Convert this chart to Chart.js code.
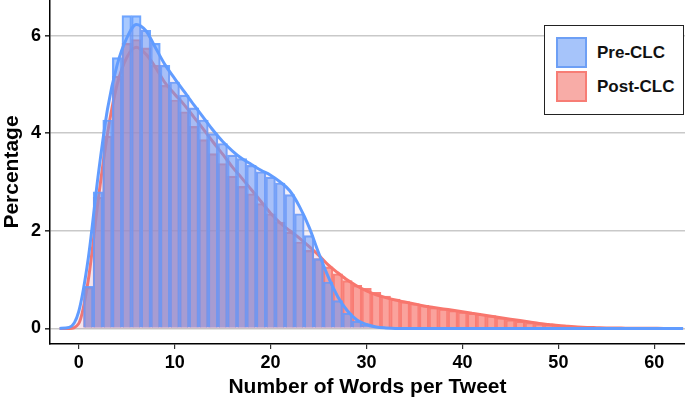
<!DOCTYPE html>
<html><head><meta charset="utf-8">
<script src="https://cdn.jsdelivr.net/npm/chart.js@4.4.1/dist/chart.umd.min.js"></script>
<style>
html,body{margin:0;padding:0;background:#fff;}
#wrap{position:relative;width:685px;height:402px;overflow:hidden;}
#legend{position:absolute;left:544px;top:25px;width:140px;height:90px;border:1.2px solid #222;background:#fff;box-sizing:border-box;font:bold 17px 'Liberation Sans',Arial,sans-serif;color:#111;}
.item{position:absolute;left:11px;display:flex;align-items:center;height:31px;}
.sw{width:31px;height:31px;box-sizing:border-box;border:2.5px solid;margin-right:10px;}
</style></head>
<body><div id="wrap"><canvas id="c" width="685" height="402"></canvas>
<div id="legend">
<div class="item" style="top:11px"><div class="sw" style="background:#a6c4fa;border-color:#6d9ff5"></div><span>Pre-CLC</span></div>
<div class="item" style="top:45px"><div class="sw" style="background:#f8aca7;border-color:#f77d75"></div><span>Post-CLC</span></div>
</div></div>
<script>
// Histogram bin centres (words per tweet)
const binCenters = Array.from({length:57}, (_, i) => i + 1);
// Percentage per bin
const preBars = [0.86,2.80,4.27,5.55,6.41,6.41,6.11,5.84,5.39,5.05,
  4.78,4.52,4.27,3.99,3.79,3.55,3.48,3.34,3.21,3.10,
  2.98,2.74,2.35,1.90,1.43,0.95,0.57,0.31,0.15,0.07,
  0.03,0.01,null,null,null,null,null,null,null,null,
  null,null,null,null,null,null,null,null,null,null,
  null,null,null,null,null,null,null];
const postBars = [0.84,2.69,3.94,5.17,5.84,5.92,5.75,5.39,4.98,4.68,
  4.44,4.14,3.87,3.58,3.38,3.12,2.91,2.76,2.56,2.35,
  2.18,1.97,1.77,1.60,1.43,1.26,1.12,0.98,0.88,0.82,
  0.74,0.66,0.60,0.55,0.51,0.47,0.43,0.40,0.37,0.34,
  0.31,0.29,0.26,0.22,0.18,0.15,0.12,0.09,0.07,0.06,
  0.04,0.03,0.02,0.015,0.01,0.01,0.005];
// Density curve sample positions and values
const kdeX = Array.from({length:66}, (_, i) => i - 2);
const preKde = [0,0.02,0.35,1.45,3.1,4.5,5.4,5.95,6.23,6.1,
  5.75,5.4,5.12,4.85,4.58,4.32,4.06,3.83,3.64,3.48,
  3.36,3.24,3.14,3.0,2.82,2.5,2.08,1.55,1.06,0.65,
  0.36,0.17,0.08,0.03,0.01,0,0,0,0,0,
  0,0,0,0,0,0,0,0,0,0,
  0,0,0,0,0,0,0,0,0,0,
  0,0,0,0,0,0];
const postKde = [0,0,0.1,1.0,2.6,4.0,5.0,5.55,5.76,5.62,
  5.35,5.03,4.8,4.58,4.33,4.08,3.82,3.57,3.31,3.08,
  2.84,2.6,2.36,2.16,2.0,1.85,1.68,1.5,1.3,1.14,
  0.99,0.87,0.77,0.69,0.63,0.58,0.54,0.5,0.46,0.43,
  0.4,0.37,0.34,0.31,0.28,0.25,0.22,0.19,0.16,0.13,
  0.1,0.08,0.06,0.045,0.03,0.02,0.015,0.01,0.007,0.005,
  0.003,0.002,0.001,0,0,0];
const xTicks = [0,10,20,30,40,50,60];
const yTicks = [0,2,4,6];

const pts = (xs, ys) => xs.map((x, i) => ({x, y: ys[i]}));
const FONT = "'Liberation Sans', Arial, sans-serif";

new Chart(document.getElementById('c'), {
  type: 'bar',
  data: {
    datasets: [
      {type:'bar', label:'Post-CLC', data: pts(binCenters, postBars), grouped:false, order:4,
       backgroundColor:'rgba(248,118,109,0.64)', borderColor:'rgba(248,118,109,0.9)', borderWidth:1.5,
       barPercentage:1, categoryPercentage:1},
      {type:'line', label:'Post-CLC density', data: pts(kdeX, postKde), order:3,
       borderColor:'#f8766d', borderWidth:3, pointRadius:0, cubicInterpolationMode:'monotone',
       fill:'origin', backgroundColor:'rgba(248,118,109,0.10)'},
      {type:'bar', label:'Pre-CLC', data: pts(binCenters, preBars), grouped:false, order:2,
       backgroundColor:'rgba(97,156,255,0.55)', borderColor:'rgba(97,156,255,0.9)', borderWidth:1.5,
       barPercentage:1, categoryPercentage:1},
      {type:'line', label:'Pre-CLC density', data: pts(kdeX, preKde), order:1,
       borderColor:'#619cff', borderWidth:3, pointRadius:0, cubicInterpolationMode:'monotone',
       fill:'origin', backgroundColor:'rgba(170,130,200,0.12)'}
    ]
  },
  options: {
    responsive:false, animation:false, devicePixelRatio:1,
    layout:{padding:0},
    plugins:{legend:{display:false}, tooltip:{enabled:false}},
    scales:{
      x:{type:'linear', min:-3, max:63.2, offset:false,
        afterBuildTicks:(s)=>{s.ticks = xTicks.map(v=>({value:v}));},
        afterFit:(s)=>{s.height = 58; s.paddingLeft = 0; s.paddingRight = 0;},
        grid:{drawOnChartArea:false, tickLength:5, tickColor:'#333', lineWidth:1.2, offset:false},
        border:{display:true, color:'#000', width:1.5},
        ticks:{color:'#000', padding:3, maxRotation:0, font:{family:FONT, size:18, weight:'bold'}},
        title:{display:true, text:'Number of Words per Tweet', color:'#000', padding:{top:0,bottom:2},
          font:{family:FONT, size:21, weight:'bold'}}
      },
      y:{type:'linear', min:-0.32, max:6.73,
        afterBuildTicks:(s)=>{s.ticks = yTicks.map(v=>({value:v}));},
        afterFit:(s)=>{s.width = 50; s.paddingTop = 0; s.paddingBottom = 0;},
        grid:{color:'#c9c9c9', lineWidth:1.6, tickLength:5, tickColor:'#333'},
        border:{display:true, color:'#000', width:1.5},
        ticks:{color:'#000', padding:4, font:{family:FONT, size:18, weight:'bold'}},
        title:{display:true, text:'Percentage', color:'#000', padding:{top:0,bottom:0},
          font:{family:FONT, size:21, weight:'bold'}}
      }
    }
  }
});
</script>
</body></html>
